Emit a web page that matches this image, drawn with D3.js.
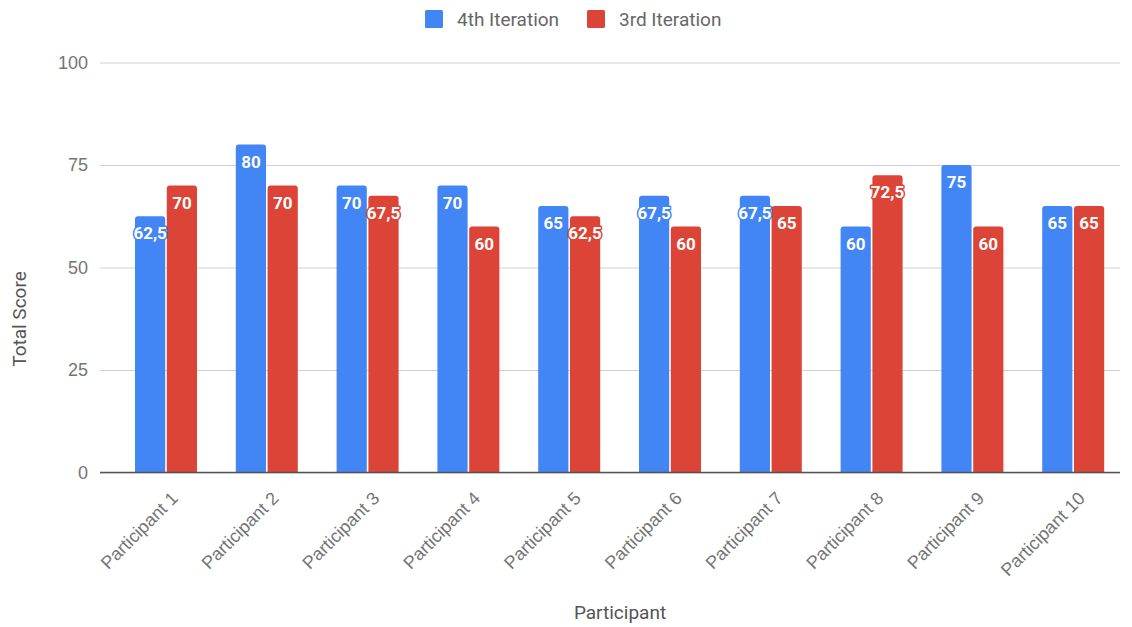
<!DOCTYPE html>
<html>
<head>
<meta charset="utf-8">
<script src="https://cdn.jsdelivr.net/npm/d3@7"></script>
<style>
  html, body { margin: 0; padding: 0; background: #fff; }
  svg { display: block; font-family: Roboto, "Noto Sans", sans-serif; }
</style>
</head>
<body>
<svg id="chart" width="1132" height="627"></svg>
<script>
// Scores per participant for the two test iterations
const participants = ["Participant 1", "Participant 2", "Participant 3", "Participant 4", "Participant 5",
                      "Participant 6", "Participant 7", "Participant 8", "Participant 9", "Participant 10"];
const fourthIteration = [62.5, 80, 70, 70, 65, 67.5, 67.5, 60, 75, 65];
const thirdIteration  = [70, 70, 67.5, 60, 62.5, 60, 65, 72.5, 60, 65];
const seriesNames = ["4th Iteration", "3rd Iteration"];
const seriesColors = ["#4285f4", "#db4437"];
const yTicks = [0, 25, 50, 75, 100];

const svg = d3.select("#chart");
const plot = { left: 100, right: 1120, top: 62.5, bottom: 472.5 };

const x = d3.scaleBand()
  .domain(participants)
  .range([115.6, 1123.6])
  .paddingInner(0.385)
  .paddingOuter(0.1925);

const xInner = d3.scaleBand()
  .domain([0, 1])
  .range([0, x.bandwidth()])
  .paddingInner(0.05);

const y = d3.scaleLinear().domain([0, 100]).range([plot.bottom, plot.top]);

// Gridlines and y tick labels
const yAxis = d3.axisLeft(y).tickValues(yTicks).tickSize(-(plot.right - plot.left)).tickPadding(10);
const gy = svg.append("g").attr("transform", `translate(${plot.left},0)`).call(yAxis);
gy.select(".domain").remove();
gy.selectAll(".tick line").attr("stroke", "#d0d0d0").attr("stroke-width", 1);
gy.selectAll(".tick text").attr("fill", "#757575").style("font-size", "18px").attr("x", -12);

// Bars with rounded tops
const rows = participants.map((p, i) => ({ p, vals: [fourthIteration[i], thirdIteration[i]] }));
const r = 3;
function barPath(x0, w, v) {
  const yt = y(v), yb = y(0);
  return `M${x0},${yb}V${yt + r}Q${x0},${yt} ${x0 + r},${yt}H${x0 + w - r}Q${x0 + w},${yt} ${x0 + w},${yt + r}V${yb}Z`;
}

const groups = svg.append("g").selectAll("g").data(rows).join("g")
  .attr("transform", d => `translate(${x(d.p)},0)`);

groups.selectAll("path").data(d => d.vals).join("path")
  .attr("d", (v, k) => barPath(xInner(k), xInner.bandwidth(), v))
  .attr("fill", (v, k) => seriesColors[k]);

// Value labels inside the top of each bar
groups.selectAll("text").data(d => d.vals).join("text")
  .attr("x", (v, k) => xInner(k) + xInner.bandwidth() / 2)
  .attr("y", v => y(v) + 23)
  .attr("text-anchor", "middle")
  .style("font-size", "17px")
  .style("font-weight", "700")
  .attr("fill", "#fff")
  .attr("stroke", (v, k) => seriesColors[k])
  .attr("stroke-width", 3)
  .attr("stroke-linejoin", "round")
  .style("paint-order", "stroke")
  .text(v => String(v).replace(".", ","));

// Baseline and x axis labels
const xAxis = d3.axisBottom(x).tickSize(0).tickPadding(0);
const gx = svg.append("g").attr("transform", `translate(0,${plot.bottom})`).call(xAxis);
gx.select(".domain").remove();
svg.append("line")
  .attr("x1", plot.left).attr("x2", plot.right)
  .attr("y1", y(0)).attr("y2", y(0))
  .attr("stroke", "#555").attr("stroke-width", 1.5);
gx.selectAll(".tick text")
  .attr("fill", "#757575")
  .style("font-size", "18px")
  .attr("text-anchor", "end")
  .attr("dy", 0)
  .attr("transform", "translate(13,27) rotate(-45)");

// Axis titles
svg.append("text")
  .attr("x", 620).attr("y", 619)
  .attr("text-anchor", "middle")
  .attr("fill", "#555")
  .style("font-size", "19px")
  .text("Participant");
svg.append("text")
  .attr("transform", "translate(25.5,319) rotate(-90)")
  .attr("text-anchor", "middle")
  .attr("fill", "#555")
  .style("font-size", "19px")
  .text("Total Score");

// Legend
const legendX = [425, 587];
const legend = svg.append("g").selectAll("g").data(seriesNames).join("g")
  .attr("transform", (d, i) => `translate(${legendX[i]},10)`);
legend.append("rect").attr("width", 18).attr("height", 18).attr("rx", 1.5)
  .attr("fill", (d, i) => seriesColors[i]);
legend.append("text").attr("x", 32).attr("y", 16)
  .attr("fill", "#666").style("font-size", "19px")
  .text(d => d);
</script>
</body>
</html>
